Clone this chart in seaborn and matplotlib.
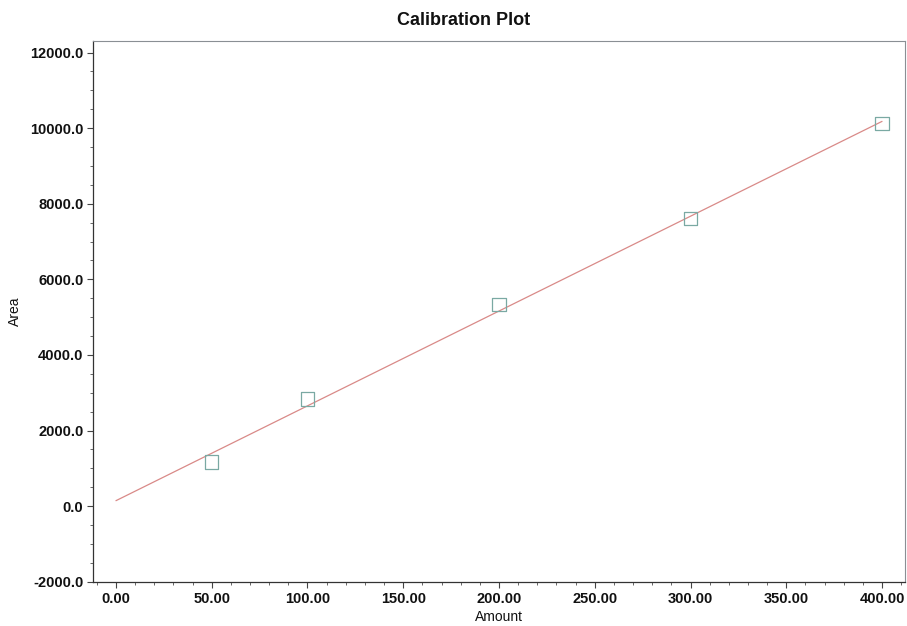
import numpy as np
import pandas as pd
import matplotlib
matplotlib.use("Agg")
import matplotlib.pyplot as plt
from matplotlib.ticker import MultipleLocator, FormatStrFormatter
import seaborn as sns

# Calibration standards
amount = [50.0, 100.0, 200.0, 300.0, 400.0]
area = [1170.0, 2827.0, 5329.0, 7609.0, 10127.0]

x_ticks = [0, 50, 100, 150, 200, 250, 300, 350, 400]
y_ticks = [-2000, 0, 2000, 4000, 6000, 8000, 10000, 12000]

sns.set_theme(style="ticks")
plt.rcParams["font.family"] = ["Liberation Sans", "DejaVu Sans"]

df = pd.DataFrame({"Amount": amount, "Area": area})

# Least-squares calibration line drawn from 0 to the highest standard
slope, intercept = np.polyfit(df["Amount"], df["Area"], 1)
fit = pd.DataFrame({"Amount": [0.0, max(amount)]})
fit["Area"] = intercept + slope * fit["Amount"]

fig = plt.figure(figsize=(9.07, 6.26), dpi=100)
ax = fig.add_axes([0.1025, 0.0708, 0.8953, 0.8645])

sns.lineplot(data=fit, x="Amount", y="Area", ax=ax, color="#d98a88", linewidth=0.9)
sns.scatterplot(data=df, x="Amount", y="Area", ax=ax, marker="s", s=95,
                facecolor="none", edgecolor="#7aa9a3", linewidth=0.9, zorder=3)

ax.set_xlim(-12, 412)
ax.set_ylim(-2000, 12320)
ax.set_xticks(x_ticks)
ax.set_yticks(y_ticks)
ax.xaxis.set_minor_locator(MultipleLocator(10))
ax.yaxis.set_minor_locator(MultipleLocator(500))
ax.xaxis.set_major_formatter(FormatStrFormatter("%.2f"))
ax.yaxis.set_major_formatter(FormatStrFormatter("%.1f"))

ax.tick_params(which="major", direction="out", length=4.4, width=0.8, color="#444444",
               labelsize=10.5, labelcolor="#111111")
ax.tick_params(axis="x", which="major", pad=3.2)
ax.tick_params(axis="y", which="major", pad=2.5)
ax.tick_params(which="minor", direction="out", length=2.2, width=0.7, color="#666666")
for lab in ax.get_xticklabels() + ax.get_yticklabels():
    lab.set_fontweight("bold")

for side in ["left", "bottom"]:
    ax.spines[side].set_color("#333333")
    ax.spines[side].set_linewidth(0.9)
for side in ["top", "right"]:
    ax.spines[side].set_visible(True)
    ax.spines[side].set_color("#8a8f94")
    ax.spines[side].set_linewidth(0.8)

fig.text(0.5116, 0.968, "Calibration Plot", fontsize=13, fontweight="bold",
         color="#111111", ha="center", va="center")
ax.set_xlabel("Amount", fontsize=10, color="#111111", va="center")
ax.xaxis.set_label_coords(0.50, -0.0647)
ax.set_ylabel("Area", fontsize=10, color="#111111", va="center")
ax.yaxis.set_label_coords(-0.096, 0.50)

fig.savefig("out.png", dpi=100)
